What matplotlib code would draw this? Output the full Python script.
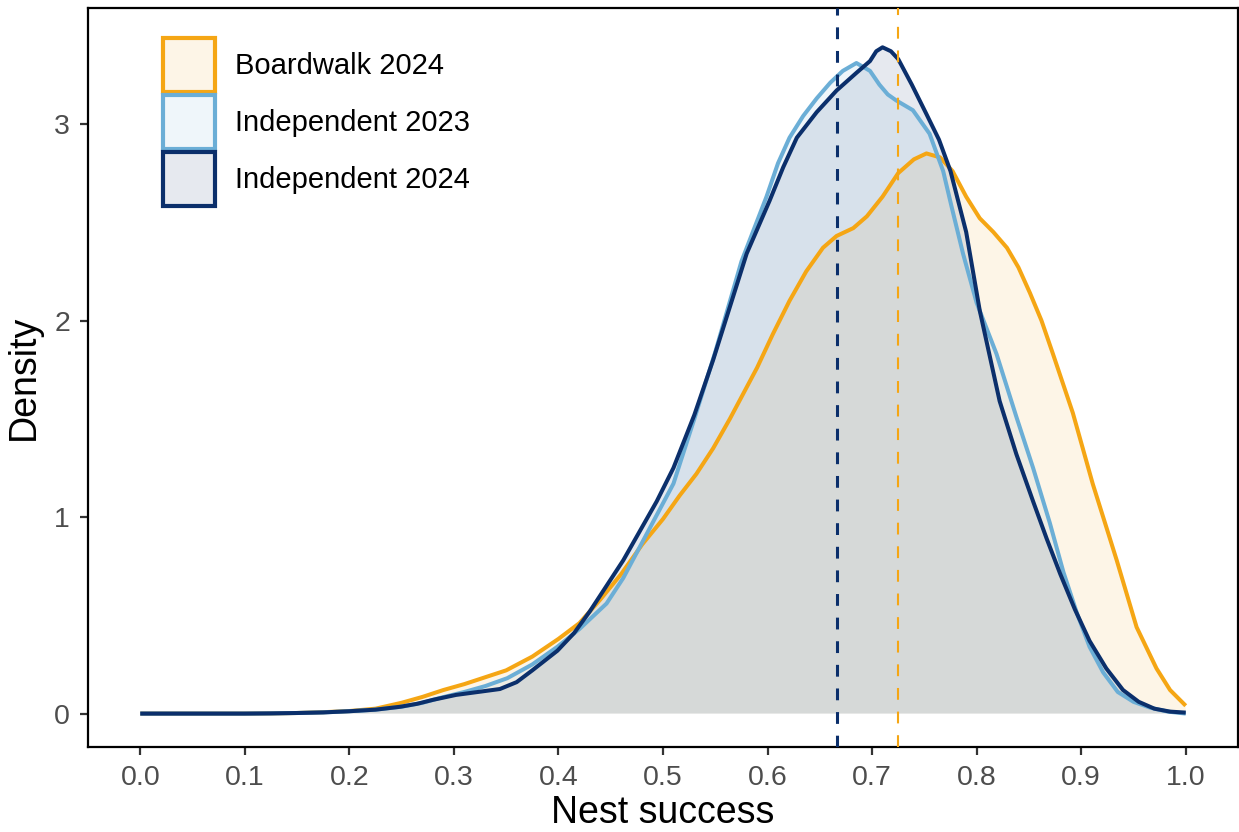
import matplotlib
matplotlib.use("Agg")
import matplotlib.pyplot as plt
from matplotlib.patches import Patch

plt.rcParams['font.family'] = ['Liberation Sans', 'DejaVu Sans']
plt.rcParams['lines.scale_dashes'] = False

# ---- data ----
series_names = ["Boardwalk 2024", "Independent 2023", "Independent 2024"]
series_colors = ["#F5A614", "#6BAED6", "#0B2F6B"]

bw24_x = [0.0, 0.05, 0.1, 0.125, 0.15, 0.175, 0.2, 0.225, 0.25, 0.27, 0.29, 0.31,
          0.33, 0.35, 0.375, 0.4, 0.42, 0.44, 0.46, 0.48, 0.5, 0.516, 0.532, 0.548,
          0.564, 0.577, 0.59, 0.605, 0.621, 0.637, 0.653, 0.666, 0.682, 0.695, 0.71,
          0.725, 0.74, 0.752, 0.765, 0.777, 0.79, 0.803, 0.816, 0.829, 0.84, 0.851,
          0.862, 0.873, 0.892, 0.911, 0.934, 0.953, 0.972, 0.985, 1.0]
bw24_y = [0.0, 0.0, 0.0, 0.001, 0.003, 0.007, 0.013, 0.025, 0.055, 0.085, 0.12, 0.15,
          0.185, 0.22, 0.29, 0.38, 0.46, 0.58, 0.71, 0.86, 0.99, 1.11, 1.22, 1.35,
          1.50, 1.63, 1.76, 1.93, 2.10, 2.25, 2.37, 2.43, 2.47, 2.53, 2.63,
          2.75, 2.82, 2.85, 2.83, 2.76, 2.63, 2.52, 2.45, 2.37, 2.27, 2.14,
          2.00, 1.83, 1.53, 1.17, 0.78, 0.44, 0.23, 0.12, 0.04]

ind23_x = [0.0, 0.05, 0.1, 0.125, 0.15, 0.175, 0.2, 0.225, 0.25, 0.27, 0.287, 0.31,
           0.33, 0.351, 0.375, 0.399, 0.42, 0.446, 0.462, 0.478, 0.494, 0.51, 0.53,
           0.55, 0.575, 0.599, 0.61, 0.621, 0.634, 0.647, 0.66, 0.672, 0.685, 0.698,
           0.707, 0.715, 0.723, 0.739, 0.755, 0.768, 0.776, 0.787, 0.8, 0.819, 0.838,
           0.854, 0.87, 0.883, 0.896, 0.908, 0.921, 0.935, 0.95, 0.966, 0.983, 1.0]
ind23_y = [0.0, 0.0, 0.0, 0.001, 0.003, 0.006, 0.012, 0.02, 0.035, 0.055, 0.08, 0.11,
           0.14, 0.18, 0.25, 0.34, 0.43, 0.56, 0.69, 0.85, 1.01, 1.17, 1.50,
           1.84, 2.30, 2.63, 2.80, 2.93, 3.04, 3.13, 3.21, 3.27, 3.31, 3.27,
           3.20, 3.15, 3.12, 3.07, 2.95, 2.76, 2.58, 2.34, 2.09, 1.83, 1.51,
           1.25, 0.97, 0.72, 0.51, 0.34, 0.21, 0.11, 0.06, 0.03, 0.01, 0.0]

ind24_x = [0.0, 0.05, 0.1, 0.125, 0.15, 0.175, 0.2, 0.225, 0.249, 0.265, 0.28, 0.302,
           0.323, 0.344, 0.36, 0.375, 0.399, 0.415, 0.43, 0.446, 0.462, 0.478, 0.494,
           0.51, 0.53, 0.548, 0.564, 0.58, 0.602, 0.615, 0.628, 0.647, 0.666, 0.685,
           0.698, 0.704, 0.71, 0.718, 0.725, 0.738, 0.752, 0.764, 0.775, 0.79, 0.803,
           0.822, 0.838, 0.854, 0.867, 0.88, 0.894, 0.908, 0.924, 0.94, 0.955, 0.97,
           0.985, 1.0]
ind24_y = [0.0, 0.0, 0.0, 0.001, 0.003, 0.006, 0.012, 0.02, 0.035, 0.05, 0.07, 0.095,
           0.11, 0.125, 0.16, 0.22, 0.32, 0.41, 0.52, 0.65, 0.78, 0.93, 1.08,
           1.25, 1.52, 1.80, 2.07, 2.34, 2.61, 2.78, 2.93, 3.06, 3.17, 3.26,
           3.32, 3.37, 3.39, 3.37, 3.33, 3.20, 3.05, 2.92, 2.76, 2.45, 2.05,
           1.59, 1.32, 1.08, 0.89, 0.71, 0.53, 0.37, 0.23, 0.12, 0.06, 0.025,
           0.01, 0.005]

mean_lines = [0.666, 0.725]            # vertical dashed lines
mean_colors = ["#0B2F6B", "#F5A614"]
mean_widths = [2.2, 1.5]

x_ticks = [0.0, 0.1, 0.2, 0.3, 0.4, 0.5, 0.6, 0.7, 0.8, 0.9, 1.0]
x_tick_labels = ["0.0", "0.1", "0.2", "0.3", "0.4", "0.5", "0.6", "0.7", "0.8", "0.9", "1.0"]
y_ticks = [0, 1, 2, 3]
y_tick_labels = ["0", "1", "2", "3"]

# ---- figure ----
fig = plt.figure(figsize=(12.39, 8.32), dpi=100)
ax = fig.add_axes([88 / 1239, 85 / 832, 1150 / 1239, 739 / 832])

xs = [bw24_x, ind23_x, ind24_x]
ys = [bw24_y, ind23_y, ind24_y]

for x, y, c in zip(xs, ys, series_colors):
    ax.fill_between(x, 0, y, facecolor=matplotlib.colors.to_rgba(c, 0.1), edgecolor='none', zorder=1)
for x, y, c in zip(xs, ys, series_colors):
    ax.plot(x, y, color=c, lw=2.9, solid_capstyle='butt', solid_joinstyle='round', zorder=3)

for xv, c, w in zip(mean_lines, mean_colors, mean_widths):
    ax.axvline(xv, color=c, lw=w, linestyle=(0, (8.5, 8.5)), zorder=4)

ax.set_xlim(-0.05, 1.05)
ax.set_ylim(-0.17, 3.59)
ax.set_xticks(x_ticks)
ax.set_xticklabels(x_tick_labels)
ax.set_yticks(y_ticks)
ax.set_yticklabels(y_tick_labels)
ax.tick_params(axis='both', direction='out', length=6, width=1.6, color='#333333',
               labelsize=20.5, labelcolor='#4D4D4D', pad=7)
for s in ax.spines.values():
    s.set_linewidth(1.6)
    s.set_color('black')

ax.set_xlabel("Nest success", fontsize=27, color='black', labelpad=3)
ax.set_ylabel("Density", fontsize=27, color='black', labelpad=9)

handles = [Patch(facecolor=matplotlib.colors.to_rgba(c, 0.1), edgecolor=c, linewidth=3)
           for c in series_colors]
leg = ax.legend(handles, series_names, loc='upper left', bbox_to_anchor=(0.0652, 0.959),
                frameon=False, fontsize=21, handlelength=1.78, handleheight=2.45,
                labelspacing=0.12, handletextpad=0.7, borderpad=0, borderaxespad=0)

fig.savefig("out.png", dpi=100)
